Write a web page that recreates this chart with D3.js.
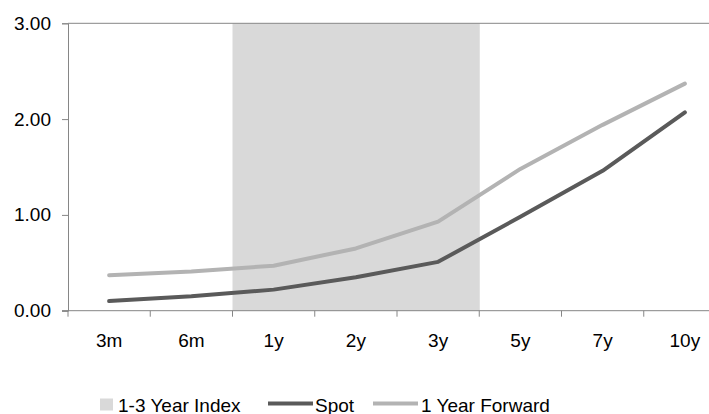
<!DOCTYPE html>
<html>
<head>
<meta charset="utf-8">
<script src="https://cdn.jsdelivr.net/npm/d3@7"></script>
<style>
  html, body { margin: 0; padding: 0; background: #fff; }
  svg { display: block; font-family: "Liberation Sans", Arial, sans-serif; }
</style>
</head>
<body>
<svg id="chart" width="709" height="414"></svg>
<script>
// Tenors along the curve
const tenors = ["3m", "6m", "1y", "2y", "3y", "5y", "7y", "10y"];
// Yields (%)
const spot = [0.10, 0.15, 0.22, 0.35, 0.51, 0.98, 1.46, 2.07];
const forward1y = [0.37, 0.41, 0.47, 0.65, 0.93, 1.48, 1.94, 2.37];
// Shaded index range (columns spanning the 1-3 year tenors)
const indexBand = [null, null, 3.00, 3.00, 3.00, null, null, null];
const yTicks = [0, 1, 2, 3];

const svg = d3.select("#chart");
const plotLeft = 68, plotTop = 23.3, plotBottom = 310.7, plotRight = 726;
const fontSize = "19px";

const x = d3.scaleBand().domain(tenors).range([plotLeft, plotRight]).padding(0);
const y = d3.scaleLinear().domain([0, 3]).range([plotBottom, plotTop]);

const colBand = "#d9d9d9", colSpot = "#5a5a5a", colFwd = "#b3b3b3", colAxis = "#868686";

// index band columns
svg.append("g").selectAll("rect")
  .data(tenors.map((t, i) => ({ t, v: indexBand[i] })).filter(d => d.v != null))
  .join("rect")
  .attr("x", d => x(d.t))
  .attr("width", x.bandwidth() + 0.5)
  .attr("y", d => y(d.v))
  .attr("height", d => y(0) - y(d.v))
  .attr("fill", colBand);

// top border line of plot area
svg.append("line")
  .attr("x1", plotLeft).attr("x2", 709)
  .attr("y1", y(3)).attr("y2", y(3))
  .attr("stroke", colAxis).attr("stroke-width", 1);

// lines
const line = d3.line()
  .x((d, i) => x(tenors[i]) + x.bandwidth() / 2)
  .y(d => y(d));

svg.append("path").datum(forward1y)
  .attr("d", line).attr("fill", "none")
  .attr("stroke", colFwd).attr("stroke-width", 4)
  .attr("stroke-linecap", "round").attr("stroke-linejoin", "round");

svg.append("path").datum(spot)
  .attr("d", line).attr("fill", "none")
  .attr("stroke", colSpot).attr("stroke-width", 4)
  .attr("stroke-linecap", "round").attr("stroke-linejoin", "round");

// y axis
const yAxis = svg.append("g")
  .attr("transform", `translate(${plotLeft},0)`)
  .call(d3.axisLeft(y).tickValues(yTicks).tickFormat(d3.format(".2f")).tickSize(6).tickPadding(11));
yAxis.select(".domain").attr("stroke", colAxis);
yAxis.selectAll(".tick line").attr("stroke", colAxis);
yAxis.selectAll("text").attr("fill", "#000").style("font-size", fontSize)
  .style("font-family", "'Liberation Sans', Arial, sans-serif");

// x axis with ticks at category boundaries
const xAxis = svg.append("g").attr("transform", `translate(0,${plotBottom})`);
xAxis.append("line")
  .attr("x1", plotLeft - 6).attr("x2", 709)
  .attr("y1", 0).attr("y2", 0)
  .attr("stroke", colAxis);
xAxis.selectAll("line.tk")
  .data(tenors)
  .join("line").attr("class", "tk")
  .attr("x1", d => x(d)).attr("x2", d => x(d))
  .attr("y1", 0).attr("y2", 6)
  .attr("stroke", colAxis);
xAxis.selectAll("text")
  .data(tenors)
  .join("text")
  .attr("x", d => x(d) + x.bandwidth() / 2)
  .attr("y", 36)
  .attr("text-anchor", "middle")
  .style("font-size", fontSize)
  .text(d => d);

// legend
const lg = svg.append("g").attr("transform", "translate(0,404)");
lg.append("rect").attr("x", 100).attr("y", -5.5).attr("width", 13).attr("height", 12).attr("fill", colBand);
lg.append("text").attr("x", 118).attr("y", 7.5).style("font-size", fontSize).text("1-3 Year Index");
lg.append("line").attr("x1", 268).attr("x2", 313).attr("y1", -0.5).attr("y2", -0.5)
  .attr("stroke", colSpot).attr("stroke-width", 4);
lg.append("text").attr("x", 315).attr("y", 7.5).style("font-size", fontSize).text("Spot");
lg.append("line").attr("x1", 373).attr("x2", 418).attr("y1", -0.5).attr("y2", -0.5)
  .attr("stroke", colFwd).attr("stroke-width", 4);
lg.append("text").attr("x", 421).attr("y", 7.5).style("font-size", fontSize).text("1 Year Forward");
</script>
</body>
</html>
